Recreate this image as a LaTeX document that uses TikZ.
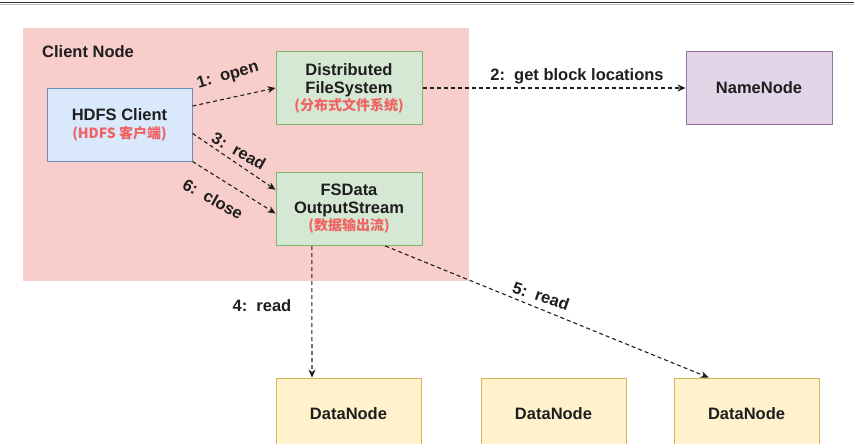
\documentclass[tikz,border=0pt]{standalone}
\usepackage{fontspec}
\setmainfont{Liberation Sans}
\newfontfamily\cjk{Noto Sans CJK SC}
\usetikzlibrary{calc,arrows.meta}
\definecolor{clientbg}{HTML}{F8CECC}
\definecolor{bluefill}{HTML}{DAE8FC}
\definecolor{bluedraw}{HTML}{6C8EBF}
\definecolor{greenfill}{HTML}{D5E8D4}
\definecolor{greendraw}{HTML}{82B366}
\definecolor{purplefill}{HTML}{E1D5E7}
\definecolor{purpledraw}{HTML}{9673A6}
\definecolor{yellowfill}{HTML}{FFF2CC}
\definecolor{yellowdraw}{HTML}{D6B656}
\definecolor{subred}{HTML}{F06262}
\definecolor{ink}{HTML}{1E1E1E}
% red Chinese sub-caption inside a box
\newcommand{\subcap}[1]{{\cjk\fontsize{14}{17}\selectfont\bfseries\color{subred}#1}}
\tikzset{
  box/.style={rectangle, draw, line width=1pt, align=center, inner sep=0pt,
    font=\fontsize{16.5}{19}\selectfont\bfseries, text=ink},
  clientbox/.style={box, fill=bluefill, draw=bluedraw, minimum width=145pt, minimum height=73pt},
  fsbox/.style={box, fill=greenfill, draw=greendraw, minimum width=146pt, minimum height=72pt},
  namebox/.style={box, fill=purplefill, draw=purpledraw, minimum width=146pt, minimum height=72pt},
  databox/.style={box, fill=yellowfill, draw=yellowdraw, minimum width=145pt, minimum height=72pt},
  flow/.style={draw=ink, line width=1.1pt, dash pattern=on 4pt off 3pt,
    -{Stealth[length=8pt,width=7pt]}},
  flowlabel/.style={font=\fontsize{16.5}{19}\selectfont\bfseries, text=ink, inner sep=1pt}
}
\begin{document}
\begin{tikzpicture}[x=1pt, y=-1pt]
  \useasboundingbox (0,0) rectangle (854,444);
  \fill[white] (0,0) rectangle (854,444);
  \begin{scope}
    \clip (0,0) rectangle (854,444);

    % window edge along the top
    \draw[line width=1.5pt, draw=black!80] (0,2.5) -- (854,2.5);
    \draw[line width=0.8pt, draw=black!25] (0,4.6) -- (854,4.6);

    % client-side container
    \fill[clientbg] (23,28) rectangle (469,281);
    \node[anchor=west, font=\fontsize{16.5}{19}\selectfont\bfseries, text=ink, inner sep=0pt]
      (clientlabel) at (42,52) {Client Node};

    % components
    \node[clientbox] (hdfs) at (119.5,124.5)
      {HDFS Client\\[-1pt]\subcap{(HDFS 客户端)}};
    \node[fsbox] (dfs) at (349,88)
      {Distributed\\[-1pt]FileSystem\\[-2pt]\subcap{(分布式文件系统)}};
    \node[fsbox, minimum height=73pt] (fsdos) at (349,209)
      {FSData\\[-1pt]OutputStream\\[-2pt]\subcap{(数据输出流)}};
    \node[namebox] (nn) at (759,88) {NameNode};
    \node[databox] (dn1) at (348.5,414) {DataNode};
    \node[databox] (dn2) at (553.5,414) {DataNode};
    \node[databox] (dn3) at (746.5,414) {DataNode};

    % step 1: open
    \draw[flow] ($(hdfs.north east)!0.25!(hdfs.south east)$) -- (dfs.west);
    \node[flowlabel, rotate=16] (l1) at (228,76) {1:\ \ open};

    % step 2: get block locations
    \draw[flow] (dfs.east) -- (nn.west);
    \node[flowlabel] (l2) at (577,76) {2:\ \ get block locations};

    % step 3: read
    \draw[flow] ($(hdfs.north east)!0.62!(hdfs.south east)$) -- ($(fsdos.north west)!0.24!(fsdos.south west)$);
    \node[flowlabel, rotate=-29] (l3) at (239,151) {3:\ \ read};

    % step 6: close
    \draw[flow] (hdfs.south east) -- ($(fsdos.north west)!0.56!(fsdos.south west)$);
    \node[flowlabel, rotate=-29] (l6) at (213,199) {6:\ \ close};

    % step 4: read from the first DataNode
    \draw[flow] ($(fsdos.south west)!0.247!(fsdos.south east)$) -- ($(dn1.north west)!0.25!(dn1.north east)$);
    \node[flowlabel] (l4) at (262,306) {4:\ \ read};

    % step 5: read from the last DataNode
    \draw[flow] ($(fsdos.south west)!0.747!(fsdos.south east)$) -- ($(dn3.north west)!0.24!(dn3.north east)$);
    \node[flowlabel, rotate=-19] (l5) at (541,296) {5:\ \ read};
  \end{scope}
\end{tikzpicture}
\end{document}
